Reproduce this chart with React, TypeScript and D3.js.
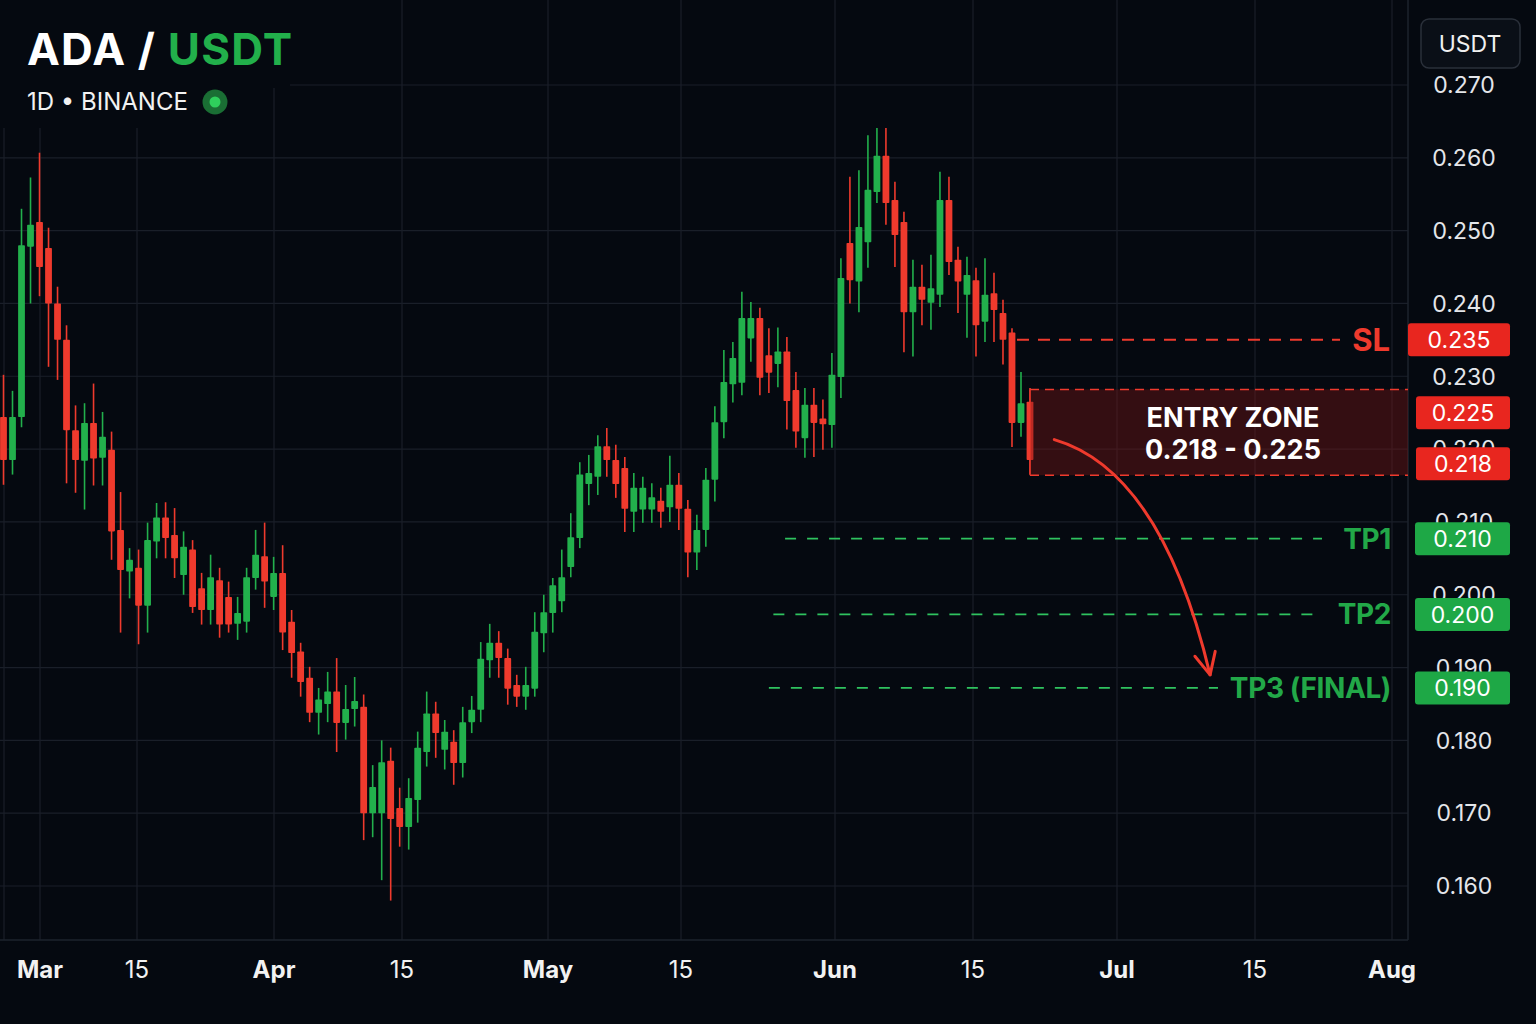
import React from 'react';
import * as d3 from 'd3';

// ---- Candle data (daily) ----
const opens = [
  0.2244, 0.2185, 0.2244, 0.2478, 0.2512, 0.2476, 0.2400, 0.2350, 0.2226, 0.2184,
  0.2236, 0.2188, 0.2199, 0.2089, 0.2032, 0.2037, 0.1985, 0.2073, 0.2106, 0.2082,
  0.2027, 0.2062, 0.2009, 0.1979, 0.2020, 0.1997, 0.1960, 0.1963, 0.2023, 0.2053,
  0.1997, 0.2030, 0.1963, 0.1922, 0.1886, 0.1838, 0.1850, 0.1867, 0.1824, 0.1843,
  0.1846, 0.1700, 0.1700, 0.1772, 0.1707, 0.1681, 0.1718, 0.1784, 0.1837, 0.1787,
  0.1798, 0.1769, 0.1825, 0.1842, 0.1910, 0.1934, 0.1913, 0.1876, 0.1860, 0.1871,
  0.1947, 0.1975, 0.1991, 0.2038, 0.2078, 0.2152, 0.2162, 0.2204, 0.2185, 0.2174,
  0.2114, 0.2117, 0.2117, 0.2129, 0.2120, 0.2151, 0.2118, 0.2058, 0.2089, 0.2158,
  0.2237, 0.2289, 0.2291, 0.2352, 0.2380, 0.2329, 0.2317, 0.2334, 0.2281, 0.2215,
  0.2261, 0.2242, 0.2233, 0.2299, 0.2483, 0.2430, 0.2484, 0.2553, 0.2603, 0.2542,
  0.2512, 0.2388, 0.2423, 0.2401, 0.2412, 0.2542, 0.2460, 0.2412, 0.2432, 0.2375,
  0.2414, 0.2387, 0.2360, 0.2236, 0.2265,
];
const highs = [
  0.2302, 0.2280, 0.2530, 0.2573, 0.2607, 0.2504, 0.2423, 0.2370, 0.2260, 0.2263,
  0.2290, 0.2251, 0.2224, 0.2141, 0.2064, 0.2062, 0.2099, 0.2126, 0.2127, 0.2119,
  0.2087, 0.2075, 0.2030, 0.2055, 0.2037, 0.2018, 0.1997, 0.2037, 0.2089, 0.2099,
  0.2052, 0.2068, 0.1979, 0.1934, 0.1901, 0.1872, 0.1894, 0.1913, 0.1876, 0.1887,
  0.1863, 0.1766, 0.1800, 0.1790, 0.1735, 0.1748, 0.1812, 0.1867, 0.1853, 0.1828,
  0.1814, 0.1846, 0.1861, 0.1935, 0.1960, 0.1950, 0.1926, 0.1890, 0.1901, 0.1976,
  0.2000, 0.2023, 0.2062, 0.2112, 0.2182, 0.2192, 0.2219, 0.2229, 0.2206, 0.2189,
  0.2167, 0.2162, 0.2153, 0.2147, 0.2191, 0.2167, 0.2130, 0.2110, 0.2174, 0.2259,
  0.2336, 0.2347, 0.2416, 0.2402, 0.2394, 0.2366, 0.2367, 0.2354, 0.2306, 0.2284,
  0.2284, 0.2268, 0.2332, 0.2462, 0.2574, 0.2583, 0.2631, 0.2641, 0.2641, 0.2567,
  0.2526, 0.2460, 0.2453, 0.2467, 0.2581, 0.2574, 0.2478, 0.2464, 0.2449, 0.2462,
  0.2442, 0.2405, 0.2366, 0.2306, 0.2284,
];
const lows = [
  0.2151, 0.2165, 0.2230, 0.2400, 0.2410, 0.2313, 0.2295, 0.2153, 0.2140, 0.2117,
  0.2150, 0.2150, 0.2048, 0.1948, 0.1995, 0.1932, 0.1948, 0.2050, 0.2050, 0.2023,
  0.2000, 0.1975, 0.1959, 0.1959, 0.1941, 0.1948, 0.1938, 0.1948, 0.2007, 0.1982,
  0.1979, 0.1924, 0.1886, 0.1860, 0.1825, 0.1808, 0.1825, 0.1784, 0.1801, 0.1819,
  0.1663, 0.1667, 0.1608, 0.1580, 0.1654, 0.1650, 0.1687, 0.1764, 0.1776, 0.1760,
  0.1739, 0.1749, 0.1810, 0.1825, 0.1886, 0.1886, 0.1849, 0.1846, 0.1842, 0.1860,
  0.1921, 0.1948, 0.1976, 0.2024, 0.2064, 0.2123, 0.2137, 0.2162, 0.2133, 0.2086,
  0.2086, 0.2099, 0.2099, 0.2092, 0.2100, 0.2089, 0.2024, 0.2034, 0.2066, 0.2128,
  0.2215, 0.2264, 0.2274, 0.2320, 0.2274, 0.2277, 0.2285, 0.2227, 0.2202, 0.2188,
  0.2189, 0.2199, 0.2202, 0.2270, 0.2400, 0.2388, 0.2449, 0.2538, 0.2508, 0.2450,
  0.2333, 0.2327, 0.2370, 0.2364, 0.2395, 0.2439, 0.2387, 0.2353, 0.2327, 0.2347,
  0.2347, 0.2316, 0.2203, 0.2217, 0.2165,
];
const closes = [
  0.2185, 0.2244, 0.2480, 0.2508, 0.2450, 0.2400, 0.2350, 0.2226, 0.2185, 0.2236,
  0.2187, 0.2217, 0.2087, 0.2034, 0.2048, 0.1985, 0.2075, 0.2106, 0.2078, 0.2050,
  0.2066, 0.1983, 0.1979, 0.2024, 0.1959, 0.1959, 0.1975, 0.2024, 0.2055, 0.2018,
  0.2030, 0.1948, 0.1920, 0.1880, 0.1838, 0.1856, 0.1867, 0.1824, 0.1843, 0.1854,
  0.1700, 0.1736, 0.1770, 0.1692, 0.1681, 0.1721, 0.1790, 0.1837, 0.1810, 0.1812,
  0.1769, 0.1825, 0.1842, 0.1912, 0.1934, 0.1913, 0.1871, 0.1860, 0.1876, 0.1949,
  0.1976, 0.2013, 0.2024, 0.2079, 0.2165, 0.2167, 0.2204, 0.2185, 0.2152, 0.2118,
  0.2147, 0.2147, 0.2134, 0.2114, 0.2151, 0.2118, 0.2058, 0.2089, 0.2158, 0.2237,
  0.2292, 0.2325, 0.2380, 0.2380, 0.2298, 0.2305, 0.2334, 0.2266, 0.2224, 0.2261,
  0.2236, 0.2234, 0.2302, 0.2435, 0.2432, 0.2505, 0.2556, 0.2603, 0.2538, 0.2494,
  0.2388, 0.2423, 0.2405, 0.2421, 0.2542, 0.2457, 0.2430, 0.2439, 0.2370, 0.2412,
  0.2391, 0.2350, 0.2236, 0.2263, 0.2185,
];

// ---- Axes ----
const priceTicks = [0.16, 0.17, 0.18, 0.19, 0.2, 0.21, 0.22, 0.23, 0.24, 0.25, 0.26, 0.27];
const dateTicks = ['2025-03-01', '2025-03-15', '2025-04-01', '2025-04-15', '2025-05-01', '2025-05-15',
  '2025-06-01', '2025-06-15', '2025-07-01', '2025-07-15', '2025-08-01'];
const dateTickLabels = ['Mar', '15', 'Apr', '15', 'May', '15', 'Jun', '15', 'Jul', '15', 'Aug'];
// the reference spaces its date axis unevenly: these are its anchor pixels
const dateTickAnchors = [40, 137, 274, 402, 548, 681, 835, 973, 1117, 1255, 1392];

// ---- Trade plan ----
const slLevel = 0.235;
const slLabel = '0.235';
const entryLabels = ['0.225', '0.218'];
const entryLevels = [0.225, 0.218];
const entryBoxEdges = [0.2282, 0.2164]; // drawn box top / bottom as in picture
const tpNames = ['TP1', 'TP2', 'TP3 (FINAL)'];
const tpLabels = ['0.210', '0.200', '0.190'];
const tpLevels = [0.2077, 0.1973, 0.1872]; // where the lines sit in the picture
const tpStartIdx = [86.8, 85.5, 85.0];
// arrow (candle index, price)
const arrowPts: [number, number][] = [[116.7, 0.2213], [128.6, 0.2170], [134.0, 0.1890]];

const W = 1536, H = 1024;
const BG = '#050910';
const GRID = '#1a1f29';
const GREEN = '#22b04c';
const RED = '#ef3a2d';
const FONT = "Inter, 'DejaVu Sans', sans-serif";

export default function App() {
  const n = opens.length;
  const x = d3.scaleLinear().domain([0, n - 1]).range([3.5, 1030]);
  const y = d3.scaleLinear().domain([0.16, 0.27]).range([886, 85]);
  const xt = d3.scaleTime()
    .domain(dateTicks.map((d) => new Date(d + 'T00:00:00')))
    .range(dateTickAnchors);
  const plotRight = 1408;
  const axisY = 940;
  const bodyW = 6.8;

  const candles = d3.range(n).map((i) => ({ i, o: opens[i], h: highs[i], l: lows[i], c: closes[i] }));

  // arrow
  const [a0, a1, a2] = arrowPts.map(([i, p]) => [x(i), y(p)] as [number, number]);
  const path = d3.path();
  path.moveTo(a0[0], a0[1]);
  path.quadraticCurveTo(a1[0], a1[1], a2[0], a2[1]);
  const ang = Math.atan2(a2[1] - a1[1], a2[0] - a1[0]) + Math.PI;
  const wl = 24, spread = 0.45;
  const w1 = [a2[0] + wl * Math.cos(ang + spread), a2[1] + wl * Math.sin(ang + spread)];
  const w2 = [a2[0] + wl * Math.cos(ang - spread), a2[1] + wl * Math.sin(ang - spread)];

  const tpLineEnd = [1322, 1320, 1218];

  React.useEffect(() => {
    document.body.style.margin = '0';
    document.body.style.background = BG;
  }, []);

  const badge = (label: string, cy: number, fill: string, x0: number) => (
    <g key={label + cy}>
      <rect x={x0} y={cy - 16.5} width={1510 - x0} height={33} rx={3} fill={fill} />
      <text x={(x0 + 1510) / 2} y={cy} dy="0.36em" textAnchor="middle" fill="#ffffff"
        fontSize={23} fontFamily={FONT}>{label}</text>
    </g>
  );

  return (
    <svg width={W} height={H} style={{ position: 'absolute', left: 0, top: 0, display: 'block' }}>
      <rect x={0} y={0} width={W} height={H} fill={BG} />

      {/* grid */}
      {priceTicks.map((t) => (
        <line key={'h' + t} x1={0} x2={plotRight} y1={y(t)} y2={y(t)} stroke={GRID} strokeWidth={1.2} />
      ))}
      <line x1={4} x2={4} y1={0} y2={axisY} stroke={GRID} strokeWidth={1.2} />
      {dateTicks.map((d) => {
        const px = xt(new Date(d + 'T00:00:00'));
        return <line key={'v' + d} x1={px} x2={px} y1={0} y2={axisY} stroke={GRID} strokeWidth={1.2} />;
      })}
      <line x1={plotRight} x2={plotRight} y1={0} y2={axisY} stroke="#1d232d" strokeWidth={1.5} />
      <line x1={0} x2={plotRight} y1={axisY} y2={axisY} stroke="#1d232d" strokeWidth={1.5} />

      {/* title backdrop */}
      <rect x={0} y={0} width={290} height={88} fill={BG} />
      <rect x={0} y={88} width={248} height={40} fill={BG} />

      {/* candles */}
      {candles.map((d) => {
        const up = d.c >= d.o;
        const col = up ? GREEN : RED;
        const cx = x(d.i);
        const top = y(Math.max(d.o, d.c));
        const bot = y(Math.min(d.o, d.c));
        return (
          <g key={d.i}>
            <line x1={cx} x2={cx} y1={y(d.h)} y2={y(d.l)} stroke={col} strokeWidth={1.6} />
            <rect x={cx - bodyW / 2} y={top} width={bodyW} height={Math.max(1.5, bot - top)} fill={col} rx={0.8} />
          </g>
        );
      })}

      {/* entry zone */}
      <rect x={x(n - 1)} y={y(entryBoxEdges[0])} width={plotRight - x(n - 1)}
        height={y(entryBoxEdges[1]) - y(entryBoxEdges[0])} fill="rgba(120,22,22,0.42)" />
      <line x1={x(n - 1)} x2={plotRight} y1={y(entryBoxEdges[0])} y2={y(entryBoxEdges[0])}
        stroke={RED} strokeWidth={1.5} strokeDasharray="9 6" />
      <line x1={x(n - 1)} x2={plotRight} y1={y(entryBoxEdges[1])} y2={y(entryBoxEdges[1])}
        stroke={RED} strokeWidth={1.5} strokeDasharray="9 6" />
      <line x1={x(n - 1)} x2={x(n - 1)} y1={y(entryBoxEdges[0])} y2={y(entryBoxEdges[1])}
        stroke={RED} strokeWidth={1.2} />
      <text x={1233} y={y(entryBoxEdges[0]) + 38} textAnchor="middle" fill="#ffffff" fontSize={27}
        fontWeight={700} fontFamily={FONT}>ENTRY ZONE</text>
      <text x={1233} y={y(entryBoxEdges[0]) + 70} textAnchor="middle" fill="#ffffff" fontSize={27}
        fontWeight={700} fontFamily={FONT}>{`${entryLabels[1]} - ${entryLabels[0]}`}</text>

      {/* SL line */}
      <line x1={x(n - 3) + 5} x2={1340} y1={y(slLevel)} y2={y(slLevel)} stroke={RED} strokeWidth={2}
        strokeDasharray="12 9" />
      <text x={1390} y={y(slLevel)} dy="0.36em" textAnchor="end" fill={RED} fontSize={31}
        fontWeight={700} fontFamily={FONT}>SL</text>

      {/* TP lines */}
      {tpLevels.map((lv, k) => (
        <g key={'tp' + k}>
          <line x1={x(tpStartIdx[k])} x2={tpLineEnd[k]} y1={y(lv)} y2={y(lv)} stroke="#2fc35f" strokeWidth={1.8}
            strokeDasharray="11 11" />
          <text x={1391} y={y(lv)} dy="0.36em" textAnchor="end" fill="#22a848" fontSize={28}
            letterSpacing={-0.4} fontWeight={700} fontFamily={FONT}>{tpNames[k]}</text>
        </g>
      ))}

      {/* arrow */}
      <path d={path.toString()} fill="none" stroke={RED} strokeWidth={3} strokeLinecap="round" />
      <polyline points={`${w1[0]},${w1[1]} ${a2[0]},${a2[1]} ${w2[0]},${w2[1]}`} fill="none" stroke={RED}
        strokeWidth={3} strokeLinecap="round" strokeLinejoin="round" />

      {/* price axis */}
      <rect x={1421} y={19} width={99} height={49} rx={8} fill="#0a0f17" stroke="#2a303a" strokeWidth={1.5} />
      <text x={1470} y={44} dy="0.36em" textAnchor="middle" fill="#f0f0f0" fontSize={23} fontFamily={FONT}>USDT</text>
      {priceTicks.map((t) => (
        <text key={'pl' + t} x={1464} y={y(t)} dy="0.36em" textAnchor="middle" fill="#e4e6ea" fontSize={23}
          fontFamily={FONT}>{t.toFixed(3)}</text>
      ))}
      {badge(slLabel, y(slLevel), '#e8261f', 1408)}
      {entryLevels.map((lv, k) => badge(entryLabels[k], y(lv), '#e8261f', 1416))}
      {tpLevels.map((lv, k) => badge(tpLabels[k], y(lv), '#1ea846', 1415))}

      {/* date axis */}
      {dateTicks.map((d, k) => (
        <text key={'dl' + d} x={xt(new Date(d + 'T00:00:00'))} y={969} dy="0.36em" textAnchor="middle"
          fill="#f2f2f2" fontSize={24} fontWeight={dateTickLabels[k] === '15' ? 400 : 700}
          fontFamily={FONT}>{dateTickLabels[k]}</text>
      ))}

      {/* title */}
      <text x={27} y={65} fontSize={44} fontWeight={700} fontFamily={FONT} fill="#ffffff" letterSpacing={1.2}>
        ADA / <tspan fill="#22b04b">USDT</tspan>
      </text>
      <text x={27} y={110} fontSize={24} fontFamily={FONT} fill="#f2f2f2">1D • BINANCE</text>
      <circle cx={215} cy={102} r={12.5} fill="#1a6e34" />
      <circle cx={215} cy={102} r={5.5} fill="#2fcf5c" />
    </svg>
  );
}
